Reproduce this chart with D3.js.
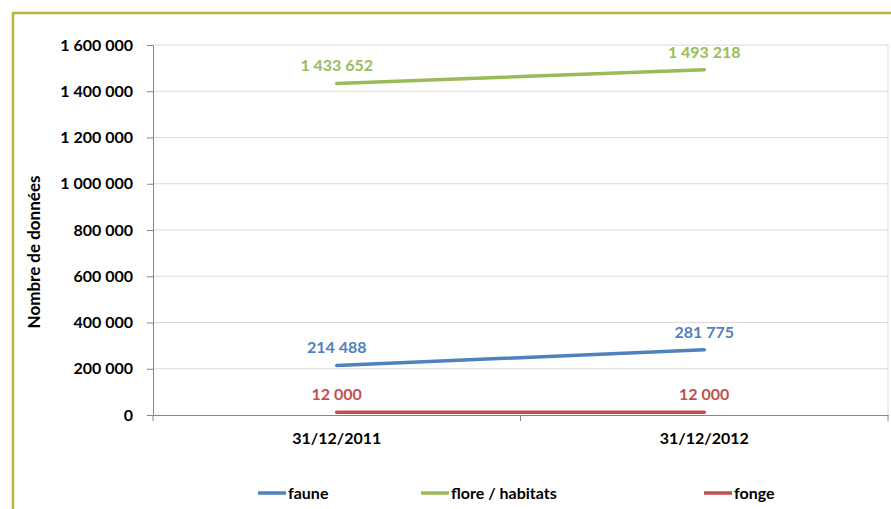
<!DOCTYPE html>
<html><head><meta charset="utf-8">
<script src="https://cdn.jsdelivr.net/npm/d3@7/dist/d3.min.js"></script>
<style>body{margin:0;background:#fff}svg{display:block}text{font-family:Lato,"Open Sans",sans-serif;font-weight:bold}</style>
</head><body>
<script>
const categories = ["31/12/2011", "31/12/2012"];
const faune = [214488, 281775];
const flore = [1433652, 1493218];
const fonge = [12000, 12000];
const seriesNames = ["faune", "flore / habitats", "fonge"];
const yTicks = [0, 200000, 400000, 600000, 800000, 1000000, 1200000, 1400000, 1600000];
const colors = ["#4f81bd", "#9bbb59", "#c0504d"];
const series = [faune, flore, fonge];

(function () {
const W = 891, H = 509;
const svg = d3.select("body").append("svg").attr("width", W).attr("height", H);
const mL = 153, mR = 888, mT = 45, mB = 415;
const FS = 16;

// frame
svg.append("path").attr("d", `M13,509 V13 H891`).attr("fill", "none").attr("stroke", "#b7b83a").attr("stroke-width", 2.5);

const x = d3.scaleBand().domain(categories).range([mL, mR]);
const y = d3.scaleLinear().domain([0, 1600000]).range([mB, mT]);
const fmt = v => d3.format(",")(v).replace(/,/g, " ");

// gridlines
svg.append("g").selectAll("line").data(yTicks.slice(1)).join("line")
  .attr("x1", mL).attr("x2", mR).attr("y1", d => y(d)).attr("y2", d => y(d))
  .attr("stroke", "#d9d9d9").attr("stroke-width", 1);
svg.append("line").attr("x1", mR).attr("x2", mR).attr("y1", mT).attr("y2", mB).attr("stroke", "#d9d9d9");

// y axis
const ya = svg.append("g").attr("transform", `translate(${mL},0)`)
  .call(d3.axisLeft(y).tickValues(yTicks).tickFormat(fmt).tickSize(6).tickPadding(14));
ya.select(".domain").attr("stroke", "#868686");
ya.selectAll(".tick line").attr("stroke", "#868686");
ya.selectAll("text").attr("font-size", FS).attr("fill", "#000").attr("font-family", "Lato").attr("font-weight", "bold");

// x axis
const xa = svg.append("g").attr("transform", `translate(0,${mB})`)
  .call(d3.axisBottom(x).tickSize(0).tickPadding(18));
xa.select(".domain").attr("stroke", "#868686");
xa.selectAll("text").attr("font-size", FS).attr("fill", "#000").attr("font-family", "Lato").attr("font-weight", "bold");
const bounds = [mL, mL + x.step(), mR];
svg.append("g").selectAll("line").data(bounds).join("line")
  .attr("x1", d => d).attr("x2", d => d).attr("y1", mB).attr("y2", mB + 6).attr("stroke", "#868686");

// y title
svg.append("text").attr("transform", `translate(40,252) rotate(-90)`)
  .attr("text-anchor", "middle").attr("font-size", 17).text("Nombre de données");

// lines
const line = d3.line().x((d, i) => x(categories[i]) + x.bandwidth() / 2).y(d => y(d));
series.forEach((s, k) => {
  svg.append("path").datum(s).attr("d", line).attr("fill", "none")
    .attr("stroke", colors[k]).attr("stroke-width", 3.5).attr("stroke-linecap", "round");
  svg.append("g").selectAll("text").data(s).join("text")
    .attr("x", (d, i) => x(categories[i]) + x.bandwidth() / 2)
    .attr("y", d => y(d) - 12)
    .attr("text-anchor", "middle").attr("font-size", FS).attr("fill", colors[k])
    .text(fmt);
});

// legend
const legX = [258, 421, 704];
seriesNames.forEach((n, k) => {
  svg.append("line").attr("x1", legX[k]).attr("x2", legX[k] + 28).attr("y1", 493).attr("y2", 493)
    .attr("stroke", colors[k]).attr("stroke-width", 3.5);
  svg.append("text").attr("x", legX[k] + 30).attr("y", 499).attr("font-size", FS).text(n);
});
})();
</script>
</body></html>
